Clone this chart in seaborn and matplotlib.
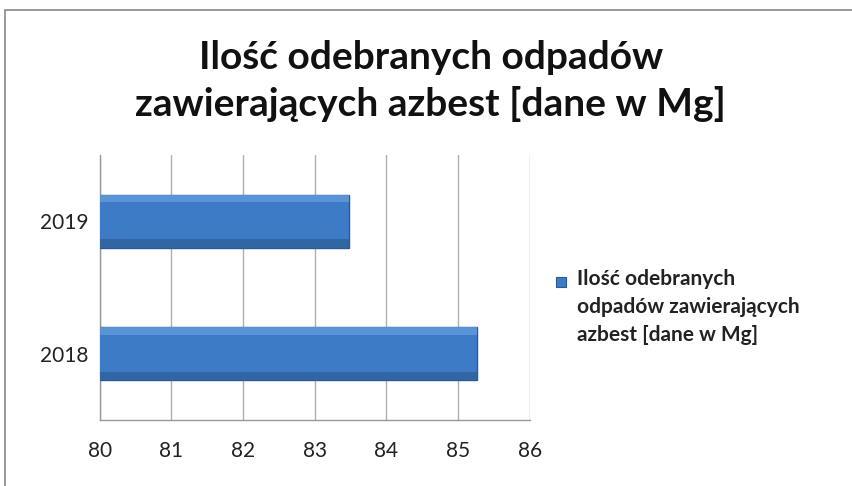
import matplotlib
matplotlib.use("Agg")
import matplotlib.pyplot as plt
import seaborn as sns
import pandas as pd
from matplotlib.patches import Rectangle

years = ["2019", "2018"]
values = [83.48, 85.26]
xticks = [80, 81, 82, 83, 84, 85, 86]
title = "Ilość odebranych odpadów\nzawierających azbest [dane w Mg]"
legend_label = "Ilość odebranych\nodpadów zawierających\nazbest [dane w Mg]"

sns.set_style("white")
plt.rcParams["font.family"] = ["Lato", "DejaVu Sans"]

df = pd.DataFrame({"year": years, "value": values})

fig = plt.figure(figsize=(8.53, 4.86), dpi=100)
ax = fig.add_axes([0.117, 0.136, 0.504, 0.545])

bar_color = "#3E7BC6"
sns.barplot(data=df, x="value", y="year", order=years, orient="h",
            color=bar_color, width=0.4, edgecolor="#2B5A93", linewidth=1.0,
            saturation=1, ax=ax, zorder=3)

ax.set_xlim(80, 86)
ax.set_ylim(1.5, -0.5)
ax.set_xticks(xticks)
ax.set_xticklabels([str(t) for t in xticks], fontsize=15, color="#222222")
ax.set_xlabel("")
ax.set_ylabel("")
ax.tick_params(axis="x", which="major", length=5, color="#999999", width=1, pad=10)
ax.tick_params(axis="y", which="major", length=0, labelsize=15, labelcolor="#222222", pad=8)
ax.set_yticks([-0.5, 0.5, 1.5], minor=True)
ax.tick_params(axis="y", which="minor", length=5, color="#999999", width=1)
ax.grid(axis="x", color="#B0B0B0", linewidth=1, zorder=0)
for s in ["top", "right"]:
    ax.spines[s].set_visible(False)
for s in ["left", "bottom"]:
    ax.spines[s].set_color("#999999")
    ax.spines[s].set_linewidth(1)

# subtle bevel: lighter top strip, darker bottom strip
for p in list(ax.patches):
    x0, y0 = p.get_x(), p.get_y()
    w, h = p.get_width(), p.get_height()
    ax.add_patch(Rectangle((x0, y0), w, h * 0.14, facecolor="#5E97DA",
                           edgecolor="none", zorder=4, alpha=0.9))
    ax.add_patch(Rectangle((x0, y0 + h * 0.84), w, h * 0.16, facecolor="#30649F",
                           edgecolor="none", zorder=4, alpha=0.9))

fig.text(0.505, 0.833, title, ha="center", va="center", fontsize=28,
         fontweight="bold", color="#111111", linespacing=1.35)

# legend (manual, marker aligned with first line)
fig.patches.append(Rectangle((556 / 853, 1 - 287 / 486), 10 / 853, 10 / 486,
                             transform=fig.transFigure, facecolor=bar_color,
                             edgecolor="#2B5A93", linewidth=0.8))
fig.text(577 / 853, 1 - 269 / 486, legend_label, ha="left", va="top",
         fontsize=15, fontweight="bold", color="#222222", linespacing=1.5)

fig.patches.append(Rectangle((0.006, -0.02), 0.995, 1.0, transform=fig.transFigure,
                             fill=False, edgecolor="#888888", linewidth=1.2))

fig.savefig("out.png", dpi=100)
